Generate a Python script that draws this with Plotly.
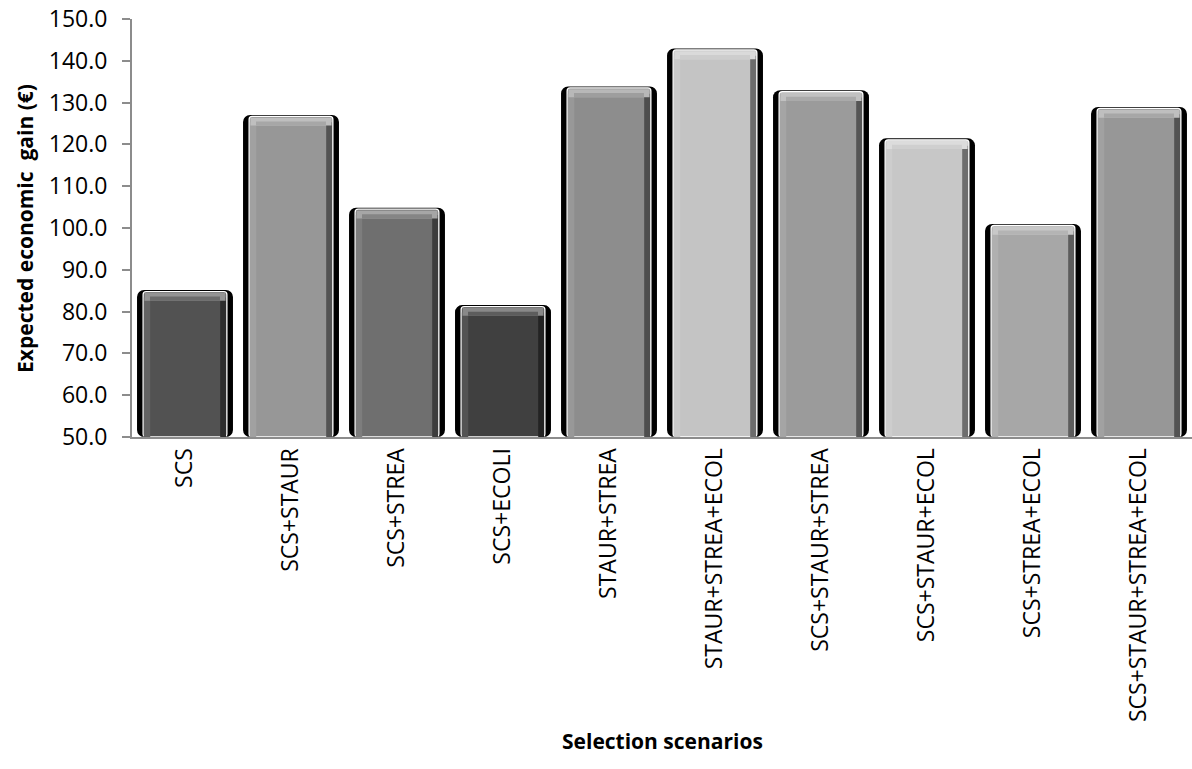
import plotly.graph_objects as go

# Selection scenarios and their expected economic gain (EUR)
scenarios = [
    "SCS", "SCS+STAUR", "SCS+STREA", "SCS+ECOLI", "STAUR+STREA",
    "STAUR+STREA+ECOL", "SCS+STAUR+STREA", "SCS+STAUR+ECOL",
    "SCS+STREA+ECOL", "SCS+STAUR+STREA+ECOL",
]
gain = [84.8, 126.7, 104.5, 81.2, 133.5, 142.6, 132.6, 121.1, 100.6, 128.6]

# grey level of each bar face
grey_levels = [82, 151, 111, 64, 141, 196, 155, 199, 167, 151]

Y_MIN, Y_MAX = 50, 150
FONT = "Open Sans"


def grey(g):
    g = max(0, min(255, int(round(g))))
    return f"rgb({g},{g},{g})"


face = [grey(g) for g in grey_levels]
light = [grey(g + (255 - g) * 0.38) for g in grey_levels]
dark = [grey(g * 0.55) for g in grey_levels]
left_side = [grey(g + (255 - g) * 0.10) for g in grey_levels]

n = len(scenarios)
bevel = 2.2  # height of the top bevel band in axis units
heights = [v - Y_MIN for v in gain]

fig = go.Figure()

# dark drop shadow behind every bar
fig.add_trace(go.Bar(
    x=scenarios, y=[h + 0.35 for h in heights], base=[Y_MIN] * n,
    width=0.905, offset=-0.4525,
    marker=dict(color="black", cornerradius=7, line=dict(width=0)),
    hoverinfo="skip",
))
# bar body with thin white rim
fig.add_trace(go.Bar(
    x=scenarios, y=heights, base=[Y_MIN] * n,
    width=0.79, offset=-0.395,
    marker=dict(color=face, cornerradius=3, line=dict(color="white", width=1.3)),
    hoverinfo="skip",
))
# left bevel
fig.add_trace(go.Bar(
    x=scenarios, y=[h - 1.4 for h in heights], base=[Y_MIN] * n,
    width=0.06, offset=-0.388,
    marker=dict(color=left_side, line=dict(width=0)),
    hoverinfo="skip",
))
# right bevel (shaded)
fig.add_trace(go.Bar(
    x=scenarios, y=[h - 1.4 for h in heights], base=[Y_MIN] * n,
    width=0.055, offset=0.332,
    marker=dict(color=dark, line=dict(width=0)),
    hoverinfo="skip",
))
# top highlight band
fig.add_trace(go.Bar(
    x=scenarios, y=[bevel - 0.3] * n, base=[v - bevel for v in gain],
    width=0.765, offset=-0.3825,
    marker=dict(color=light, line=dict(width=0)),
    hoverinfo="skip",
))
# inner lower part of the highlight, blending into the face
fig.add_trace(go.Bar(
    x=scenarios, y=[bevel * 0.45] * n, base=[v - bevel for v in gain],
    width=0.66, offset=-0.33,
    marker=dict(color=[grey(g + (255 - g) * 0.15) for g in grey_levels], line=dict(width=0)),
    hoverinfo="skip",
))

fig.update_layout(
    width=1192, height=769,
    barmode="overlay",
    showlegend=False,
    plot_bgcolor="white", paper_bgcolor="white",
    margin=dict(l=132, r=0, t=19, b=332),
    font=dict(family=FONT, color="black"),
    xaxis=dict(
        type="category", range=[-0.5, n - 0.5],
        showline=True, linecolor="#8c8c8c", linewidth=2,
        ticks="", showgrid=False, zeroline=False,
        tickangle=-90, tickfont=dict(size=23, family=FONT),
    ),
    yaxis=dict(
        range=[Y_MIN, Y_MAX], dtick=10, tickformat=".1f",
        showline=True, linecolor="#8c8c8c", linewidth=2,
        ticks="outside", ticklen=8, tickcolor="#8c8c8c", tickwidth=2,
        ticklabelstandoff=10,
        showgrid=False, zeroline=False,
        tickfont=dict(size=23, family=FONT),
    ),
    annotations=[
        dict(text="<b>Selection scenarios</b>", xref="paper", yref="paper",
             x=0.5, y=-0.727, xanchor="center", yanchor="middle",
             showarrow=False, font=dict(size=21, family=FONT)),
        dict(text="<b>Expected economic  gain (€)</b>", xref="paper", yref="paper",
             x=-0.101, y=0.5, xanchor="center", yanchor="middle", textangle=-90,
             showarrow=False, font=dict(size=21, family=FONT)),
    ],
)

fig.write_html("out.html")
